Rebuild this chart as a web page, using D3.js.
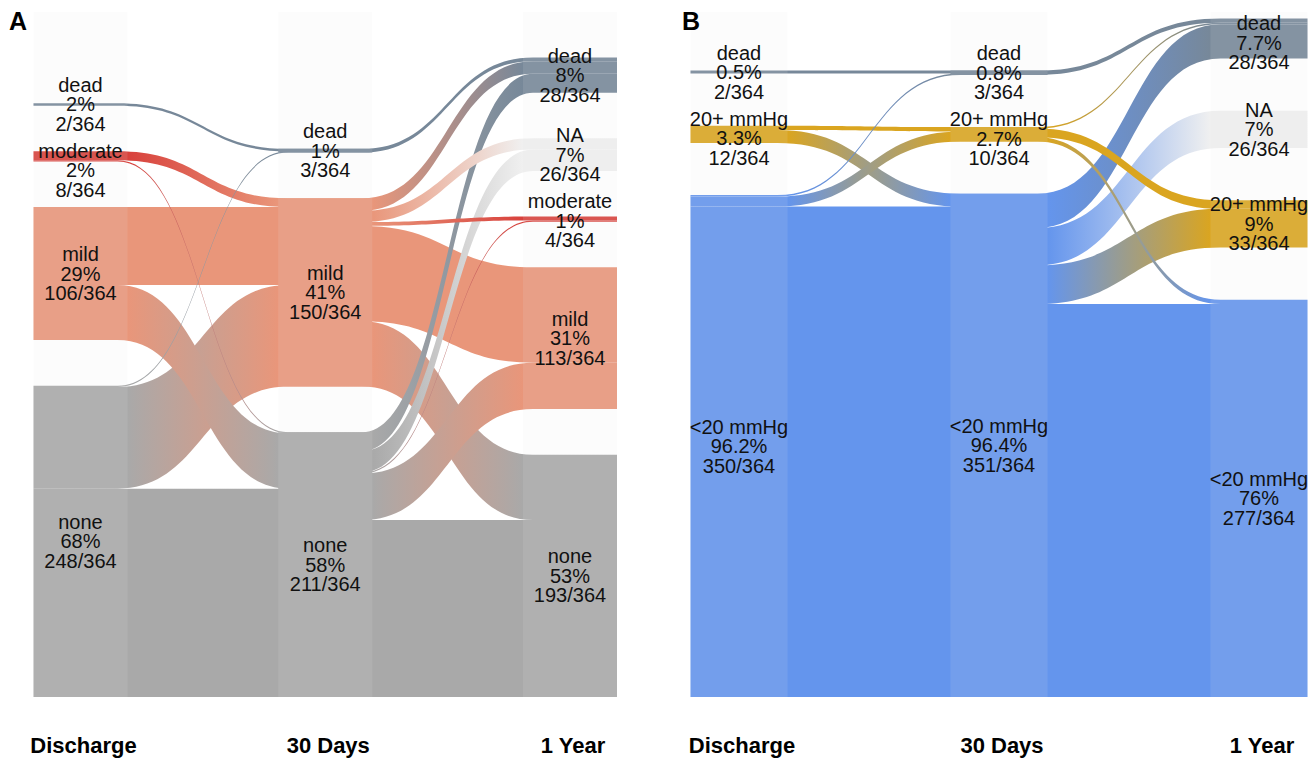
<!DOCTYPE html>
<html>
<head>
<meta charset="utf-8">
<script src="https://cdn.jsdelivr.net/npm/d3@7"></script>
<style>
  body { margin: 0; background: #fff; }
  text { font-family: 'Liberation Sans', Arial, Helvetica, sans-serif; }
</style>
</head>
<body>
<script>
var stageNames = ['Discharge', '30 Days', '1 Year'];
var total = 364;

// panel A : regurgitation severity
var severityLevels = ['dead', 'NA', 'moderate', 'mild', 'none'];
var severityColors = ['#778899', '#f0f0f0', '#d8413c', '#e9967a', '#a9a9a9'];
var severityPct = [
  ['2%', '', '2%', '29%', '68%'],
  ['1%', '', '', '41%', '58%'],
  ['8%', '7%', '1%', '31%', '53%']
];
var severityFlowsEarly = [
  ['dead', 'dead', 2],
  ['moderate', 'mild', 7],
  ['moderate', 'none', 1],
  ['mild', 'mild', 62],
  ['mild', 'none', 44],
  ['none', 'dead', 1],
  ['none', 'mild', 81],
  ['none', 'none', 166]
];
var severityFlowsLate = [
  ['dead', 'dead', 3],
  ['mild', 'dead', 10],
  ['mild', 'NA', 9],
  ['mild', 'moderate', 3],
  ['mild', 'mild', 76],
  ['mild', 'none', 52],
  ['none', 'dead', 15],
  ['none', 'NA', 17],
  ['none', 'moderate', 1],
  ['none', 'mild', 37],
  ['none', 'none', 141]
];

// panel B : pressure gradient
var gradientLevels = ['dead', 'NA', '20+ mmHg', '<20 mmHg'];
var gradientColors = ['#778899', '#f0f0f0', '#daa520', '#6495ed'];
var gradientPct = [
  ['0.5%', '', '3.3%', '96.2%'],
  ['0.8%', '', '2.7%', '96.4%'],
  ['7.7%', '7%', '9%', '76%']
];
var gradientFlowsEarly = [
  ['dead', 'dead', 2],
  ['20+ mmHg', '20+ mmHg', 3],
  ['20+ mmHg', '<20 mmHg', 9],
  ['<20 mmHg', 'dead', 1],
  ['<20 mmHg', '20+ mmHg', 7],
  ['<20 mmHg', '<20 mmHg', 342]
];
var gradientFlowsLate = [
  ['dead', 'dead', 3],
  ['20+ mmHg', 'dead', 1],
  ['20+ mmHg', '20+ mmHg', 6],
  ['20+ mmHg', '<20 mmHg', 3],
  ['<20 mmHg', 'dead', 24],
  ['<20 mmHg', 'NA', 26],
  ['<20 mmHg', '20+ mmHg', 27],
  ['<20 mmHg', '<20 mmHg', 274]
];

var screen = { width: 1315, height: 760 };
var svg = d3.select('body')
            .append('svg')
            .attr('width', screen.width)
            .attr('height', screen.height);
var defs = svg.append('defs');

function drawPanel(p) {
  var g = svg.append('g');
  var x = d3.scalePoint().domain(stageNames).range(p.xRange);
  var half = p.colWidth / 2;
  var last = stageNames.length - 1;

  // node sizes from the flows
  var values = stageNames.map(function(s, si) {
    return p.levels.map(function(l) {
      var out = si < last ? d3.sum(p.flows[si].filter(function(f) { return f[0] === l; }), function(f) { return f[2]; }) : 0;
      var inn = si > 0 ? d3.sum(p.flows[si - 1].filter(function(f) { return f[1] === l; }), function(f) { return f[2]; }) : 0;
      return Math.max(out, inn);
    });
  });
  var nodeCounts = values.map(function(v) { return v.filter(function(d) { return d > 0; }).length; });
  var maxUnits = total + p.gap * (d3.max(nodeCounts) - 1);
  var y = d3.scaleLinear().domain([0, maxUnits]).range([p.bottom, p.top]);

  // stack each column from the bottom
  var nodes = values.map(function(vals, si) {
    var pos = 0, res = [];
    for (var li = vals.length - 1; li >= 0; li--) {
      if (vals[li] > 0) {
        res[li] = { stage: si, level: li, value: vals[li], u0: pos, u1: pos + vals[li] };
        pos += vals[li] + p.gap;
      }
    }
    return res;
  });

  var links = [];
  p.flows.forEach(function(fl, si) {
    var outCur = nodes[si].map(function(n) { return n ? n.u1 : 0; });
    var inCur = nodes[si + 1].map(function(n) { return n ? n.u1 : 0; });
    var ls = fl.map(function(f) {
      return { stage: si, s: p.levels.indexOf(f[0]), t: p.levels.indexOf(f[1]), v: f[2] };
    });
    ls.slice().sort(function(a, b) { return a.s - b.s || a.t - b.t; }).forEach(function(d) {
      d.su1 = outCur[d.s]; outCur[d.s] -= d.v; d.su0 = outCur[d.s];
    });
    ls.slice().sort(function(a, b) { return a.t - b.t || a.s - b.s; }).forEach(function(d) {
      d.tu1 = inCur[d.t]; inCur[d.t] -= d.v; d.tu0 = inCur[d.t];
    });
    links = links.concat(ls);
  });
  // thin flows on top
  links.sort(function(a, b) { return b.v - a.v; });

  function colLeft(si) { return x(stageNames[si]) - half; }

  links.forEach(function(d, i) {
    d.id = p.id + '-grad-' + i;
    var grad = defs.append('linearGradient')
                   .attr('id', d.id)
                   .attr('gradientUnits', 'userSpaceOnUse')
                   .attr('x1', colLeft(d.stage) + p.colWidth)
                   .attr('x2', colLeft(d.stage + 1))
                   .attr('y1', 0).attr('y2', 0);
    grad.append('stop').attr('offset', 0).attr('stop-color', p.colors[d.s]);
    grad.append('stop').attr('offset', 1).attr('stop-color', p.colors[d.t]);
  });

  function linkPath(d) {
    var xs0 = colLeft(d.stage), xs1 = xs0 + p.colWidth;
    var xt0 = colLeft(d.stage + 1), xt1 = xt0 + p.colWidth;
    var a = xs1 - p.inset, b = xt0 + p.inset, m = (a + b) / 2;
    var sTop = y(d.su1), sBot = y(d.su0), tTop = y(d.tu1), tBot = y(d.tu0);
    var path = d3.path();
    path.moveTo(xs0, sTop);
    path.lineTo(a, sTop);
    path.bezierCurveTo(m, sTop, m, tTop, b, tTop);
    path.lineTo(xt1, tTop);
    path.lineTo(xt1, tBot);
    path.lineTo(b, tBot);
    path.bezierCurveTo(m, tBot, m, sBot, a, sBot);
    path.lineTo(xs0, sBot);
    path.closePath();
    return path.toString();
  }

  g.append('g')
   .selectAll('path')
   .data(links)
   .enter()
   .append('path')
   .attr('d', linkPath)
   .attr('fill', function(d) { return 'url(#' + d.id + ')'; });

  // column overlays
  g.append('g')
   .selectAll('rect')
   .data(stageNames)
   .enter()
   .append('rect')
   .attr('x', function(d) { return x(d) - half; })
   .attr('y', p.overlayTop)
   .attr('width', p.colWidth)
   .attr('height', p.bottom - p.overlayTop)
   .attr('fill', '#e4e4e4')
   .attr('opacity', 0.12);

  // node labels, pushed down when they would overlap
  var lineH = 19.5, halfBlock = lineH + 10, sep = 2 * halfBlock + 7;
  var labels = [];
  nodes.forEach(function(col, si) {
    var prev = -Infinity;
    col.forEach(function(n) {
      if (!n) return;
      var nat = (y(n.u1) + y(n.u0)) / 2;
      var c = Math.max(nat, prev + sep, p.labelTop + halfBlock);
      prev = c;
      labels.push({ x: x(stageNames[si]), c: c,
                    lines: [p.levels[n.level], p.pct[si][n.level], n.value + '/' + total] });
    });
  });

  var lg = g.append('g')
            .selectAll('text')
            .data(labels)
            .enter()
            .append('text')
            .attr('text-anchor', 'middle')
            .attr('font-size', 20)
            .attr('fill', '#111');
  lg.selectAll('tspan')
    .data(function(d) { return d.lines.map(function(t, i) { return { t: t, x: d.x, y: d.c + (i - 1) * lineH }; }); })
    .enter()
    .append('tspan')
    .attr('x', function(d) { return d.x; })
    .attr('y', function(d) { return d.y; })
    .attr('dy', '0.35em')
    .text(function(d) { return d.t; });

  // stage axis labels
  g.append('g')
   .selectAll('text')
   .data(stageNames)
   .enter()
   .append('text')
   .attr('x', function(d) { return x(d) + 3; })
   .attr('y', p.axisY)
   .attr('dy', '0.35em')
   .attr('text-anchor', 'middle')
   .attr('font-size', 22)
   .attr('font-weight', 'bold')
   .text(function(d) { return d; });

  g.append('text')
   .attr('x', p.letterX)
   .attr('y', 30)
   .attr('font-size', 25)
   .attr('font-weight', 'bold')
   .text(p.letter);
}

drawPanel({
  id: 'A', letter: 'A', letterX: 9,
  levels: severityLevels, colors: severityColors, pct: severityPct,
  flows: [severityFlowsEarly, severityFlowsLate],
  xRange: [80.5, 570], colWidth: 94, gap: 36.4, inset: 10,
  top: 57.5, bottom: 697, overlayTop: 12, labelTop: 13, axisY: 745
});

drawPanel({
  id: 'B', letter: 'B', letterX: 682,
  levels: gradientLevels, colors: gradientColors, pct: gradientPct,
  flows: [gradientFlowsEarly, gradientFlowsLate],
  xRange: [739, 1259], colWidth: 97, gap: 36.4, inset: 10,
  top: 18.4, bottom: 697, overlayTop: 12, labelTop: 13, axisY: 745
});
</script>
</body>
</html>
